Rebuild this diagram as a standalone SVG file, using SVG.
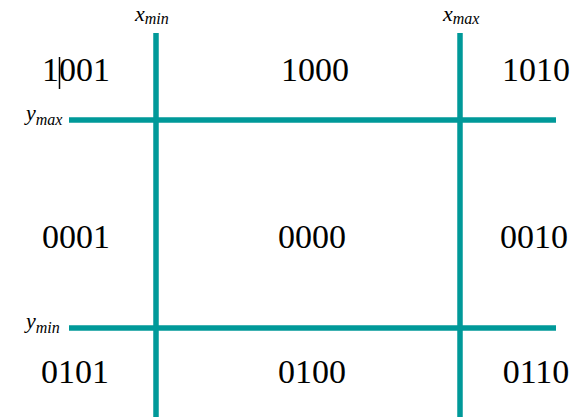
<svg xmlns="http://www.w3.org/2000/svg" width="581" height="417" viewBox="0 0 581 417">
<style>
.ln{stroke:#009999;stroke-width:5.5;fill:none}
.code{font-family:'Liberation Serif','DejaVu Serif',serif;font-size:34px;fill:#000;text-anchor:middle}
.lab{font-family:'Liberation Serif','DejaVu Serif',serif;font-style:italic;font-size:22px;fill:#000}
.sub{font-size:16px}
</style>
<rect width="581" height="417" fill="#fff"/>
<g id="connectors">
<line id="xmin" class="ln" x1="156" y1="33" x2="156" y2="417"/>
<line id="xmax" class="ln" x1="460" y1="33" x2="460" y2="417"/>
<line id="ymax" class="ln" x1="69" y1="120" x2="556" y2="120"/>
<line id="ymin" class="ln" x1="69" y1="328" x2="556" y2="328"/>
</g>
<g id="labels">
<text id="lxmin" class="lab" x="135" y="21">x<tspan class="sub" dy="3">min</tspan></text>
<text id="lxmax" class="lab" x="443" y="21">x<tspan class="sub" dy="3">max</tspan></text>
<text id="lymax" class="lab" x="26" y="120">y<tspan class="sub" dy="5">max</tspan></text>
<text id="lymin" class="lab" x="26" y="328">y<tspan class="sub" dy="5">min</tspan></text>
</g>
<g id="r1001"><text class="code" x="76" y="81">1001</text><line x1="59.5" y1="57" x2="59.5" y2="89" stroke="#000" stroke-width="1.5"/></g>
<g id="r1000"><text class="code" x="315" y="81">1000</text></g>
<g id="r1010"><text class="code" x="536" y="81">1010</text></g>
<g id="r0001"><text class="code" x="76" y="248">0001</text></g>
<g id="r0000"><text class="code" x="312" y="248">0000</text></g>
<g id="r0010"><text class="code" x="534" y="248">0010</text></g>
<g id="r0101"><text class="code" x="75" y="383">0101</text></g>
<g id="r0100"><text class="code" x="312" y="383">0100</text></g>
<g id="r0110"><text class="code" x="536" y="383">0110</text></g>
</svg>
